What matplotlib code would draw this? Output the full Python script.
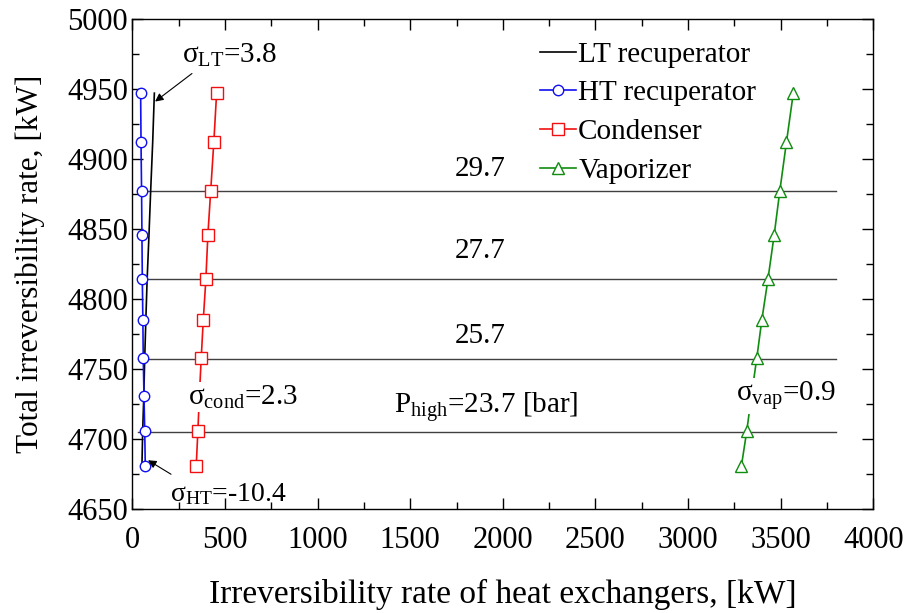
import matplotlib
matplotlib.use("Agg")
import matplotlib.pyplot as plt
from matplotlib.ticker import MultipleLocator

plt.rcParams['font.family'] = ['Liberation Serif', 'DejaVu Serif']
plt.rcParams['mathtext.fontset'] = 'custom'
plt.rcParams['mathtext.rm'] = 'Liberation Serif'
plt.rcParams['mathtext.it'] = 'Liberation Serif:italic'

# Data (total irreversibility rate, kW) and component irreversibility (kW)
total_irr = [4947, 4912, 4877, 4846, 4814, 4785, 4758, 4731, 4706, 4681]
lt_recup = [119, 110, 99, 90, 80, 73, 67, 62, 56, 52]
ht_recup = [45, 47, 50, 52, 54, 57, 59, 63, 67, 70]
condenser = [455, 440, 423, 408, 397, 383, 372, 362, 354, 345]
vaporizer = [3568, 3531, 3495, 3465, 3431, 3398, 3371, 3342, 3317, 3288]

p_levels = [4877, 4814, 4757, 4705]
p_labels = ['29.7', '27.7', '25.7', r'P$_\mathrm{high}$=23.7 [bar]']

fig = plt.figure(figsize=(9.05, 6.13), dpi=100)
ax = fig.add_axes([0.1462, 0.1692, 0.8188, 0.8])

# pressure lines
for yv in p_levels:
    ax.plot([30, 3800], [yv, yv], color='#404040', lw=1.0, zorder=1)

ax.plot(lt_recup, total_irr, color='black', lw=1.2, label='LT recuperator', zorder=2)
ax.plot(ht_recup, total_irr, color='#1010f0', lw=1.2, marker='o', ms=7.5,
        mfc='white', mew=1.0, label='HT recuperator', zorder=3)
ax.plot(condenser, total_irr, color='#f01010', lw=1.2, marker='s', ms=8,
        mfc='white', mew=1.0, label='Condenser', zorder=3)
ax.plot(vaporizer, total_irr, color='#108c10', lw=1.2, marker='^', ms=8,
        mfc='white', mew=1.0, label='Vaporizer', zorder=3)

# pressure labels
ax.text(1877, 4893, p_labels[0], fontsize=21, ha='center', va='center')
ax.text(1877, 4834, p_labels[1], fontsize=21, ha='center', va='center')
ax.text(1877, 4774, p_labels[2], fontsize=21, ha='center', va='center')
ax.text(1413, 4723, p_labels[3], fontsize=21, ha='left', va='center')

# sigma annotations
bb = dict(facecolor='white', edgecolor='none', pad=1)
arrow = dict(arrowstyle='-|>', color='black', lw=0.8, shrinkA=0, shrinkB=0,
             mutation_scale=12)
ax.text(267, 4974, 'σ$_\\mathrm{LT}$=3.8', fontsize=21, va='center', ha='left', zorder=6)
ax.annotate('', xy=(123, 4941), xytext=(322, 4961), arrowprops=arrow, zorder=6)
ax.text(301, 4730, 'σ$_\\mathrm{cond}$=2.3', fontsize=21, va='center', ha='left',
        bbox=bb, zorder=5)
ax.text(3259, 4731, 'σ$_\\mathrm{vap}$=0.9', fontsize=21, va='center', ha='left',
        bbox=bb, zorder=5)
ax.text(205, 4661, 'σ$_\\mathrm{HT}$=-10.4', fontsize=20, va='center', ha='left', zorder=6)
ax.annotate('', xy=(85, 4685), xytext=(209, 4675), arrowprops=arrow, zorder=6)

ax.set_xlim(0, 4000)
ax.set_ylim(4650, 5000)
ax.xaxis.set_major_locator(MultipleLocator(500))
ax.xaxis.set_minor_locator(MultipleLocator(250))
ax.yaxis.set_major_locator(MultipleLocator(50))
ax.yaxis.set_minor_locator(MultipleLocator(25))
ax.tick_params(which='both', direction='in', top=True, right=True, labelsize=22)
ax.tick_params(which='major', length=8, width=1)
ax.tick_params(which='minor', length=5, width=1)
ax.tick_params(axis='x', which='major', pad=12)
ax.tick_params(axis='y', which='major', pad=3)
for s in ax.spines.values():
    s.set_linewidth(1.0)

ax.set_xlabel('Irreversibility rate of heat exchangers, [kW]', fontsize=24, labelpad=17)
ax.set_ylabel('Total irreversibility rate, [kW]', fontsize=22.5, labelpad=16)

ax.legend(loc='upper left', bbox_to_anchor=(0.534, 0.978), frameon=False,
          fontsize=21, handlelength=1.25, handletextpad=0.07, labelspacing=0.42,
          borderaxespad=0)

fig.savefig('out.png', dpi=100)
